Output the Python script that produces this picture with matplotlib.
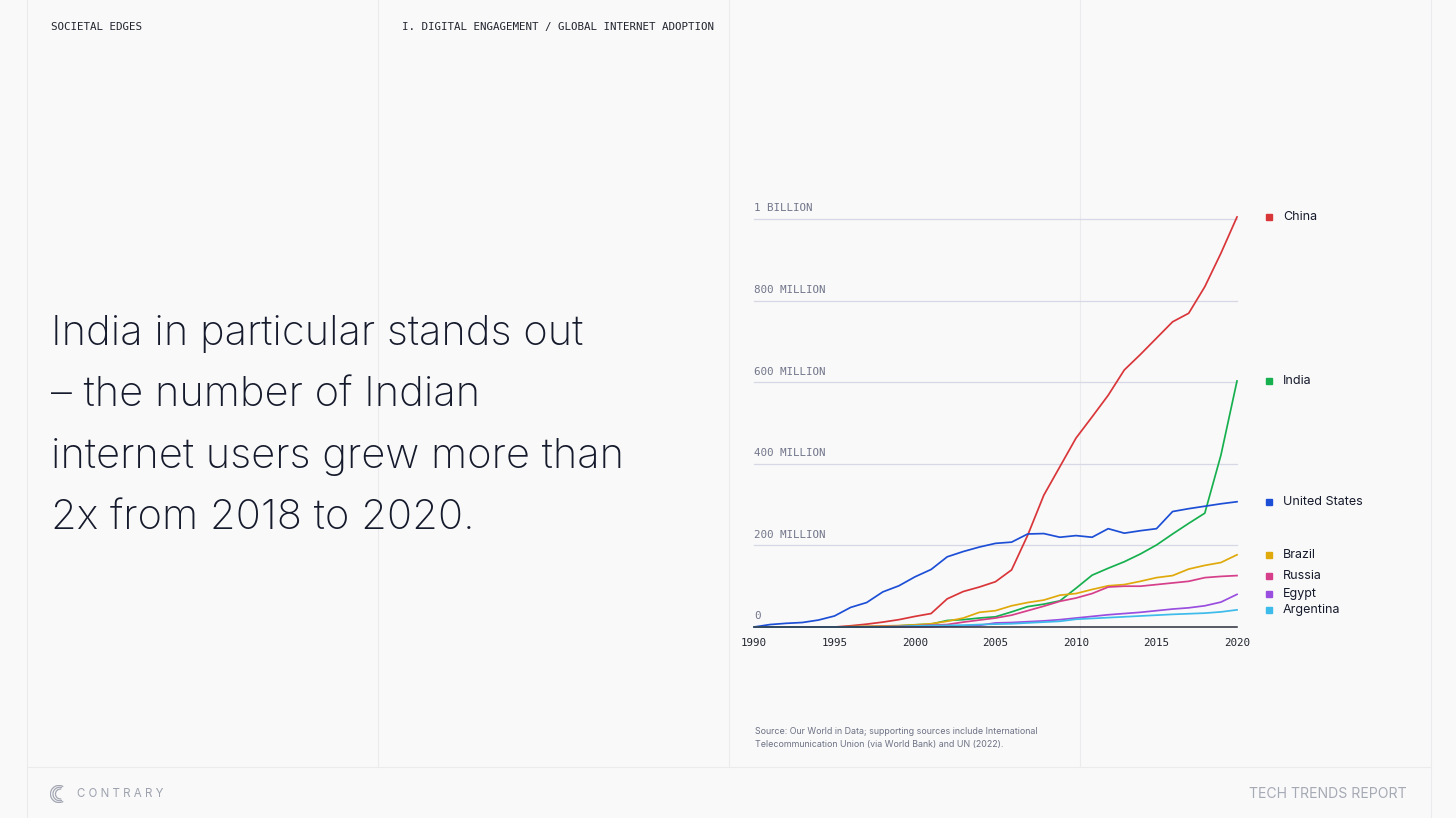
import matplotlib
matplotlib.use("Agg")
import matplotlib.pyplot as plt
from matplotlib.patches import Arc
from matplotlib.lines import Line2D
from matplotlib import transforms

# ---- data (millions of internet users) ----
years = list(range(1990, 2021))

china = [0, 0, 0, 0, 0, 0, 3, 7, 12, 18, 26, 33, 69, 87, 98, 111, 140, 225, 323, 393,
         463, 515, 568, 630, 668, 708, 748, 769, 834, 916, 1005]
india = [0, 0, 0, 0, 0, 0, 0.5, 1, 1.5, 2.8, 5.5, 7, 16, 18, 22, 25, 37, 50, 56, 64,
         95, 127, 144, 160, 179, 201, 228, 254, 279, 421, 603]
usa = [0, 6, 9, 11, 17, 27, 48, 60, 86, 101, 123, 141, 172, 185, 196, 205, 208, 228, 229, 220,
       224, 220, 241, 230, 236, 241, 283, 290, 296, 302, 307]
brazil = [0, 0, 0, 0, 0, 0, 0.7, 1.5, 2.5, 3.5, 5, 8, 14, 22, 36, 40, 52, 60, 66, 78,
          82, 92, 101, 104, 112, 121, 126, 142, 151, 158, 177]
russia = [0, 0, 0, 0, 0, 0, 0.3, 0.7, 1.2, 1.5, 3, 4.5, 6, 12, 17, 22, 29, 40, 51, 63,
          71, 82, 98, 100, 100, 104, 108, 112, 121, 124, 126]
egypt = [0, 0, 0, 0, 0, 0, 0.05, 0.1, 0.2, 0.3, 0.5, 0.7, 2.5, 3, 4, 10, 11, 13, 15, 18,
         22, 26, 30, 33, 36, 40, 44, 47, 52, 61, 80]
argentina = [0, 0, 0, 0, 0, 0, 0.05, 0.1, 0.3, 1.2, 2.6, 3.6, 4, 4.5, 6, 7, 8, 10, 12, 14,
             19, 21, 23, 25, 27, 29, 31, 32.5, 34, 37, 42]

countries = ["China", "India", "United States", "Brazil", "Russia", "Egypt", "Argentina"]
series = [china, india, usa, brazil, russia, egypt, argentina]
colors = ["#d9363a", "#17b04f", "#1d4fd6", "#e0aa0c", "#d63f8a", "#9a4ee0", "#3dbbea"]

y_ticks = [0, 200, 400, 600, 800, 1000]
y_labels = ["0", "200 MILLION", "400 MILLION", "600 MILLION", "800 MILLION", "1 BILLION"]
x_ticks = [1990, 1995, 2000, 2005, 2010, 2015, 2020]

BG = "#f9f9f9"
SEP = "#ebebee"
W, H = 1456, 818
MONO = "DejaVu Sans Mono"
SANS = ["Inter", "DejaVu Sans"]

fig = plt.figure(figsize=(W / 100, H / 100), dpi=100, facecolor=BG)

def fx(px):
    return px / W

def fy(py):
    return 1 - py / H

# panel separators (behind the chart)
for px in [27, 1431]:
    fig.add_artist(Line2D([fx(px), fx(px)], [0, 1], color=SEP, lw=0.8, zorder=-5))
for px in [378, 729, 1080]:
    fig.add_artist(Line2D([fx(px), fx(px)], [fy(767), 1], color=SEP, lw=0.8, zorder=-5))
fig.add_artist(Line2D([fx(27), fx(1431)], [fy(767), fy(767)], color=SEP, lw=0.8, zorder=-5))

# header
fig.text(fx(51), fy(27), "SOCIETAL EDGES", family=MONO, fontsize=7.8,
         color="#22252f", va="center", ha="left")
fig.text(fx(402), fy(27), "I. DIGITAL ENGAGEMENT / GLOBAL INTERNET ADOPTION", family=MONO,
         fontsize=7.8, color="#22252f", va="center", ha="left")

# headline
lines = ["India in particular stands out", "\u2013 the number of Indian",
         "internet users grew more than", "2x from 2018 to 2020."]
for i, t in enumerate(lines):
    fig.text(fx(51), fy(334 + i * 61.7), t, family=SANS, fontsize=30, fontweight="light",
             color="#151a2c", va="center", ha="left")

# chart
ax = fig.add_axes([fx(754), fy(627), fx(1237) - fx(754), (627 - 219) / H])
ax.set_facecolor("none")
ax.set_xlim(1990, 2020)
ax.set_ylim(0, 1000)

for v in y_ticks[1:]:
    ax.axhline(v, color="#d6d8e6", lw=0.9, zorder=1, clip_on=False)
ax.axhline(0, color="#2b2e3a", lw=1.1, zorder=5, clip_on=False)

label_tr = ax.get_yaxis_transform() + transforms.ScaledTranslation(0, 4 / 72, fig.dpi_scale_trans)
for v, lab in zip(y_ticks, y_labels):
    ax.text(0, v, lab, transform=label_tr, family=MONO, fontsize=7.8, color="#71758a",
            ha="left", va="bottom")

draw_order = [6, 5, 4, 3, 2, 0, 1]
for i in draw_order:
    ax.plot(years, series[i], color=colors[i], lw=1.25, zorder=3 + i * 0.01,
            solid_joinstyle="round", clip_on=False)

ax.set_xticks(x_ticks)
ax.set_xticklabels([str(x) for x in x_ticks], family=MONO, fontsize=7.8, color="#22252f")
ax.tick_params(axis="x", length=0, pad=8)
ax.set_yticks([])
for s in ax.spines.values():
    s.set_visible(False)

# end labels next to the last value of each line
leg_tr = ax.get_yaxis_transform()
for name, vals, c in zip(countries, series, colors):
    end = vals[-1]
    ax.plot([1.0665], [end], marker="s", markersize=5, color=c, transform=leg_tr,
            clip_on=False, ls="none")
    ax.text(1.095, end, name, transform=leg_tr, family=SANS, fontsize=9, color="#151a2c",
            ha="left", va="center")

# source
fig.text(fx(755), fy(731), "Source: Our World in Data; supporting sources include International",
         family=SANS, fontsize=6.4, color="#6d7285", va="center", ha="left")
fig.text(fx(755), fy(744), "Telecommunication Union (via World Bank) and UN (2022).",
         family=SANS, fontsize=6.4, color="#6d7285", va="center", ha="left")

# footer
logo = fig.add_axes([fx(50), fy(803), fx(18), 18 / H])
logo.set_xlim(-1, 1)
logo.set_ylim(-1, 1)
logo.axis("off")
for k, r in enumerate([0.95, 0.75, 0.55]):
    logo.add_patch(Arc((0.08 * k, 0), 2 * r, 2 * r, theta1=60 + 10 * k, theta2=300 - 10 * k,
                       color="#a3a7b3", lw=0.9))
fig.text(fx(77), fy(794), "C O N T R A R Y", family=SANS, fontsize=8.3, color="#9ea2ae",
         va="center", ha="left")
fig.text(fx(1407), fy(794), "TECH TRENDS REPORT", family=SANS, fontsize=10.1, color="#a6aab5",
         va="center", ha="right")

fig.savefig("out.png", dpi=100, facecolor=BG)
